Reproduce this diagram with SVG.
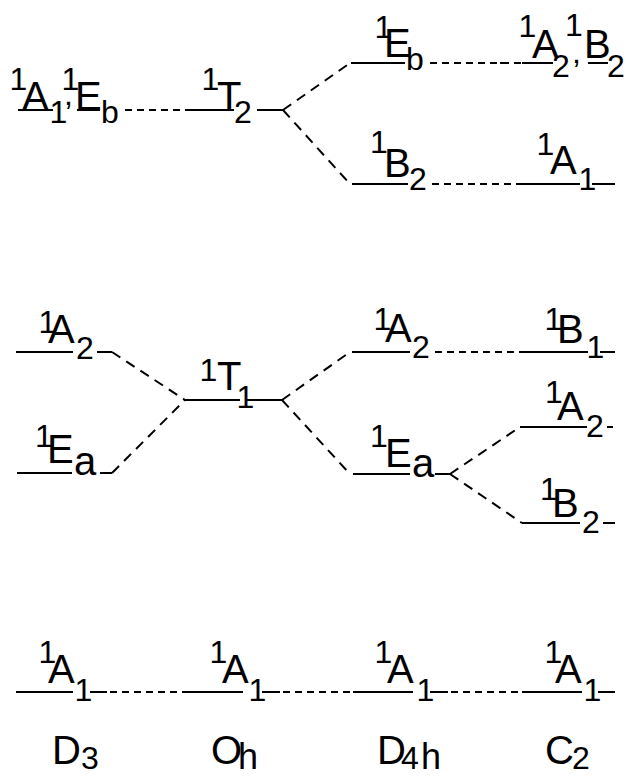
<svg xmlns="http://www.w3.org/2000/svg" width="635" height="776" viewBox="0 0 635 776">
<style>
text{font-family:"Liberation Sans",Arial,sans-serif;fill:#000;font-size:40px}
.s{font-size:32px}
.a{font-size:40px}
.h{font-size:36px}
.lv line{stroke:#000;stroke-width:2}
#connectors line{stroke:#000;stroke-width:2;fill:none}
.hd{stroke-dasharray:7 5}
.dd{stroke-dasharray:10 7}
</style>
<rect width="635" height="776" fill="#fff"/>
<g id="connectors">
<line class="hd" x1="125" y1="110" x2="185" y2="110"/>
<line class="dd" x1="283" y1="110" x2="350" y2="63"/>
<line class="dd" x1="283" y1="110" x2="350" y2="184"/>
<line class="hd" x1="430" y1="63" x2="522" y2="63"/>
<line class="hd" x1="432" y1="184" x2="523" y2="184"/>
<line class="dd" x1="112" y1="352" x2="185" y2="400"/>
<line class="dd" x1="112" y1="473" x2="185" y2="400"/>
<line class="dd" x1="282" y1="400" x2="350" y2="352"/>
<line class="dd" x1="282" y1="400" x2="350" y2="474"/>
<line class="hd" x1="435" y1="352" x2="523" y2="352"/>
<line class="dd" x1="450" y1="474" x2="520" y2="427"/>
<line class="dd" x1="450" y1="474" x2="522" y2="523"/>
<line class="hd" x1="110" y1="692" x2="185" y2="692"/>
<line class="hd" x1="283" y1="692" x2="353" y2="692"/>
<line class="hd" x1="451" y1="692" x2="522" y2="692"/>
</g>
<g id="D3_A1Eb" class="lv">
<line x1="18" y1="110" x2="53" y2="110"/><line x1="77" y1="110" x2="100" y2="110"/>
<text><tspan class="s" x="9.5" y="90">1</tspan><tspan x="22" y="110">A</tspan><tspan class="s" x="49.5" y="123">1</tspan><tspan class="s" x="64" y="105">,</tspan><tspan class="s" x="61.5" y="90">1</tspan><tspan x="75" y="110">E</tspan><tspan class="s" x="101" y="123">b</tspan></text>
</g>
<g id="Oh_T2" class="lv">
<line x1="185" y1="110" x2="234" y2="110"/><line x1="257" y1="110" x2="283" y2="110"/>
<text><tspan class="s" x="201.5" y="90">1</tspan><tspan x="217" y="110">T</tspan><tspan class="s" x="234" y="123">2</tspan></text>
</g>
<g id="D4h_Eb" class="lv">
<line x1="351" y1="63" x2="405" y2="63"/>
<text><tspan class="s" x="374.5" y="38">1</tspan><tspan x="384" y="57">E</tspan><tspan class="s" x="406" y="70">b</tspan></text>
</g>
<g id="C2_A2B2" class="lv">
<line x1="500" y1="63" x2="508" y2="63"/>
<line x1="522" y1="63" x2="553" y2="63"/><line x1="588" y1="63" x2="608" y2="63"/>
<text><tspan class="s" x="518.5" y="37">1</tspan><tspan x="532" y="58">A</tspan><tspan class="s" x="552" y="77">2</tspan><tspan class="s" x="572" y="63">,</tspan><tspan class="s" x="565" y="36">1</tspan><tspan x="584" y="58">B</tspan><tspan class="s" x="607" y="77">2</tspan></text>
</g>
<g id="D4h_B2" class="lv">
<line x1="352" y1="184" x2="408" y2="184"/>
<text><tspan class="s" x="370" y="153">1</tspan><tspan x="384" y="177">B</tspan><tspan class="s" x="409" y="190">2</tspan></text>
</g>
<g id="C2_A1_top" class="lv">
<line x1="523" y1="184" x2="580" y2="184"/><line x1="592" y1="184" x2="615" y2="184"/>
<text><tspan class="s" x="536.5" y="155">1</tspan><tspan x="550" y="174">A</tspan><tspan class="s" x="578.5" y="190">1</tspan></text>
</g>
<g id="D3_A2" class="lv">
<line x1="16" y1="352" x2="73" y2="352"/><line x1="97" y1="352" x2="112" y2="352"/>
<text><tspan class="s" x="38.5" y="333">1</tspan><tspan x="48" y="343">A</tspan><tspan class="s" x="76" y="359">2</tspan></text>
</g>
<g id="D3_Ea" class="lv">
<line x1="17" y1="473" x2="72" y2="473"/><line x1="100" y1="473" x2="112" y2="473"/>
<text><tspan class="s" x="35" y="447">1</tspan><tspan x="47" y="463">E</tspan><tspan class="a" x="74" y="475">a</tspan></text>
</g>
<g id="Oh_T1" class="lv">
<line x1="185" y1="400" x2="240" y2="400"/><line x1="247" y1="400" x2="282" y2="400"/>
<text><tspan class="s" x="199.5" y="381">1</tspan><tspan x="217" y="390">T</tspan><tspan class="s" x="236.5" y="408">1</tspan></text>
</g>
<g id="D4h_A2" class="lv">
<line x1="352" y1="352" x2="410" y2="352"/>
<text><tspan class="s" x="373.5" y="330">1</tspan><tspan x="385" y="342">A</tspan><tspan class="s" x="412" y="358">2</tspan></text>
</g>
<g id="C2_B1" class="lv">
<line x1="523" y1="352" x2="588" y2="352"/><line x1="600" y1="352" x2="615" y2="352"/>
<text><tspan class="s" x="544.5" y="330">1</tspan><tspan x="557" y="343">B</tspan><tspan class="s" x="586.5" y="358">1</tspan></text>
</g>
<g id="D4h_Ea" class="lv">
<line x1="353" y1="474" x2="410" y2="474"/><line x1="435" y1="474" x2="450" y2="474"/>
<text><tspan class="s" x="370" y="447">1</tspan><tspan x="385" y="467">E</tspan><tspan class="a" x="412" y="477">a</tspan></text>
</g>
<g id="C2_A2" class="lv">
<line x1="520" y1="427" x2="587" y2="427"/><line x1="607" y1="427" x2="613" y2="427"/>
<text><tspan class="s" x="545" y="403">1</tspan><tspan x="557" y="420">A</tspan><tspan class="s" x="586" y="437">2</tspan></text>
</g>
<g id="C2_B2" class="lv">
<line x1="522" y1="523" x2="580" y2="523"/><line x1="603" y1="523" x2="615" y2="523"/>
<text><tspan class="s" x="540" y="500">1</tspan><tspan x="552" y="517">B</tspan><tspan class="s" x="582" y="533">2</tspan></text>
</g>
<g id="D3_A1" class="lv">
<line x1="16" y1="692" x2="73" y2="692"/><line x1="90" y1="692" x2="107" y2="692"/>
<text><tspan class="s" x="38.5" y="663">1</tspan><tspan x="48" y="683">A</tspan><tspan class="s" x="74.5" y="701">1</tspan></text>
</g>
<g id="Oh_A1" class="lv">
<line x1="185" y1="692" x2="243" y2="692"/><line x1="262" y1="692" x2="280" y2="692"/>
<text><tspan class="s" x="209.5" y="663">1</tspan><tspan x="222" y="683">A</tspan><tspan class="s" x="248.5" y="701">1</tspan></text>
</g>
<g id="D4h_A1" class="lv">
<line x1="353" y1="692" x2="413" y2="692"/><line x1="430" y1="692" x2="448" y2="692"/>
<text><tspan class="s" x="374.5" y="663">1</tspan><tspan x="387" y="683">A</tspan><tspan class="s" x="416.5" y="701">1</tspan></text>
</g>
<g id="C2_A1" class="lv">
<line x1="522" y1="692" x2="582" y2="692"/><line x1="598" y1="692" x2="615" y2="692"/>
<text><tspan class="s" x="544.5" y="663">1</tspan><tspan x="555" y="683">A</tspan><tspan class="s" x="583.5" y="701">1</tspan></text>
</g>
<g id="label_D3"><text><tspan x="52" y="764">D</tspan><tspan class="s" x="81" y="769">3</tspan></text></g>
<g id="label_Oh"><text><tspan x="211" y="764">O</tspan><tspan class="h" x="238" y="769">h</tspan></text></g>
<g id="label_D4h"><text><tspan x="377" y="764">D</tspan><tspan class="s" x="401" y="769">4</tspan><tspan class="h" x="421" y="769">h</tspan></text></g>
<g id="label_C2"><text><tspan x="545" y="764">C</tspan><tspan class="s" x="572" y="769">2</tspan></text></g>
</svg>
